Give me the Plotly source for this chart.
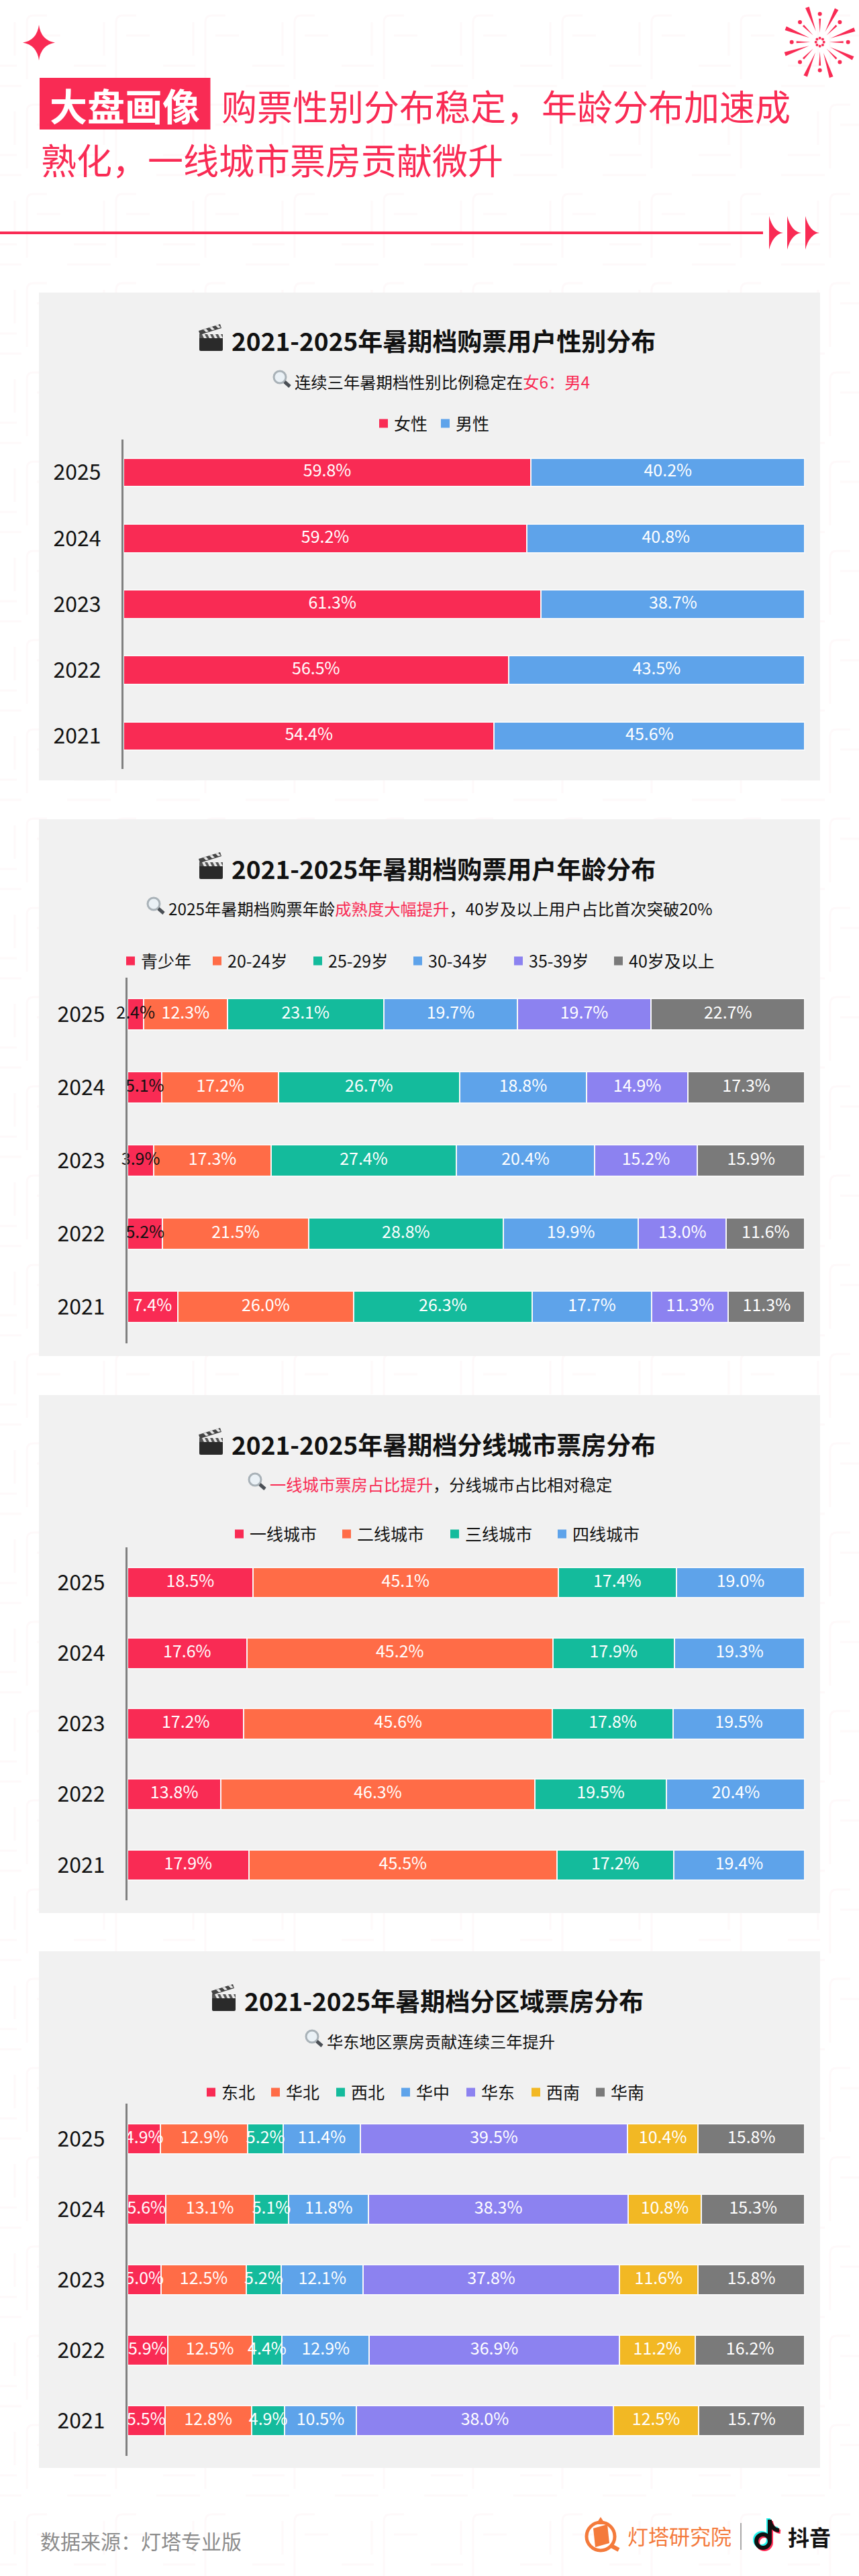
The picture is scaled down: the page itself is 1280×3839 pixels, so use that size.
import math
import plotly.graph_objects as go

W, H = 1280, 3839
FONT = "Noto Sans CJK SC"
RED = "#F92B54"

# 数据
years = ["2021", "2022", "2023", "2024", "2025"]

gender_names = ["女性", "男性"]
gender_female = [54.4, 56.5, 61.3, 59.2, 59.8]
gender_male = [45.6, 43.5, 38.7, 40.8, 40.2]

age_names = ["青少年", "20-24岁", "25-29岁", "30-34岁", "35-39岁", "40岁及以上"]
age_teen = [7.4, 5.2, 3.9, 5.1, 2.4]
age_20 = [26.0, 21.5, 17.3, 17.2, 12.3]
age_25 = [26.3, 28.8, 27.4, 26.7, 23.1]
age_30 = [17.7, 19.9, 20.4, 18.8, 19.7]
age_35 = [11.3, 13.0, 15.2, 14.9, 19.7]
age_40 = [11.3, 11.6, 15.9, 17.3, 22.7]

tier_names = ["一线城市", "二线城市", "三线城市", "四线城市"]
tier_1 = [17.9, 13.8, 17.2, 17.6, 18.5]
tier_2 = [45.5, 46.3, 45.6, 45.2, 45.1]
tier_3 = [17.2, 19.5, 17.8, 17.9, 17.4]
tier_4 = [19.4, 20.4, 19.5, 19.3, 19.0]

region_names = ["东北", "华北", "西北", "华中", "华东", "西南", "华南"]
region_ne = [5.5, 5.9, 5.0, 5.6, 4.9]
region_n = [12.8, 12.5, 12.5, 13.1, 12.9]
region_nw = [4.9, 4.4, 5.2, 5.1, 5.2]
region_c = [10.5, 12.9, 12.1, 11.8, 11.4]
region_e = [38.0, 36.9, 37.8, 38.3, 39.5]
region_sw = [12.5, 11.2, 11.6, 10.8, 10.4]
region_s = [15.7, 16.2, 15.8, 15.3, 15.8]

colors_two = [RED, "#5EA3EA"]
colors_all = [RED, "#FF6C47", "#14BB9C", "#5EA3EA", "#8C82F0", "#F2B824", "#7A7A7A"]
colors_age = [RED, "#FF6C47", "#14BB9C", "#5EA3EA", "#8C82F0", "#7A7A7A"]

# 每个面板的位置（像素）
panels = [
    dict(names=gender_names, series=[gender_female, gender_male], colors=colors_two,
         box=(436, 1163), plot=(655, 1146), left=184,
         title="2021-2025年暑期档购票用户性别分布", title_y=507, clap_x=297,
         sub=f"连续三年暑期档性别比例稳定在<span style='color:{RED}'>女6：男4</span>", sub_x=437, sub_y=568,
         legend_xs=[565, 657], legend_y=631),
    dict(names=age_names, series=[age_teen, age_20, age_25, age_30, age_35, age_40], colors=colors_age,
         box=(1221, 2021), plot=(1457, 2002), left=190,
         title="2021-2025年暑期档购票用户年龄分布", title_y=1294, clap_x=297,
         sub=f"2025年暑期档购票年龄<span style='color:{RED}'>成熟度大幅提升</span>，40岁及以上用户占比首次突破20%",
         sub_x=249, sub_y=1353, legend_xs=[188, 317, 467, 616, 766, 915], legend_y=1432),
    dict(names=tier_names, series=[tier_1, tier_2, tier_3, tier_4], colors=colors_all,
         box=(2079, 2851), plot=(2306, 2832), left=190,
         title="2021-2025年暑期档分线城市票房分布", title_y=2152, clap_x=297,
         sub=f"<span style='color:{RED}'>一线城市票房占比提升</span>，分线城市占比相对稳定", sub_x=400, sub_y=2211,
         legend_xs=[350, 510, 671, 831], legend_y=2286),
    dict(names=region_names, series=[region_ne, region_n, region_nw, region_c, region_e, region_sw, region_s],
         colors=colors_all,
         box=(2908, 3678), plot=(3135, 3660), left=190,
         title="2021-2025年暑期档分区域票房分布", title_y=2981, clap_x=316,
         sub="华东地区票房贡献连续三年提升", sub_x=485, sub_y=3041,
         legend_xs=[308, 404, 501, 598, 695, 792, 888], legend_y=3118),
]

fig = go.Figure()
# 第一组坐标轴就是页面像素，用来放背景、图标和标题
fig.add_trace(go.Scatter(x=[None], y=[None], showlegend=False, hoverinfo="skip"))
layout = dict(
    width=W, height=H, margin=dict(l=0, r=0, t=0, b=0), autosize=False,
    paper_bgcolor="#FFFFFF", plot_bgcolor="rgba(0,0,0,0)",
    barmode="stack", barnorm="percent", bargap=0.565,
    font=dict(family=FONT, color="#111111"), showlegend=False,
    xaxis=dict(domain=[0, 1], range=[0, W], visible=False, fixedrange=True),
    yaxis=dict(domain=[0, 1], range=[H, 0], visible=False, fixedrange=True),
)
shapes = []
annotations = []


def path_shape(path, fill=None, line=None, width=0, layer="below"):
    shapes.append(dict(type="path", path=path, xref="x", yref="y", layer=layer,
                       fillcolor=fill if fill else "rgba(0,0,0,0)",
                       line=dict(color=line if line else "rgba(0,0,0,0)", width=width)))


def dot(x, y, r, fill, line=None, width=0):
    shapes.append(dict(type="circle", xref="x", yref="y", layer="below", x0=x - r, x1=x + r, y0=y - r, y1=y + r,
                       fillcolor=fill, line=dict(color=line if line else "rgba(0,0,0,0)", width=width)))


def rect(x0, y0, x1, y1, fill):
    shapes.append(dict(type="rect", xref="x", yref="y", layer="below", x0=x0, x1=x1, y0=y0, y1=y1,
                       fillcolor=fill, line=dict(width=0)))


def text_at(x, y, text, size, color="#111111", anchor="left", bold=False):
    annotations.append(dict(x=x, y=y, xref="x", yref="y", text=f"<b>{text}</b>" if bold else text,
                            showarrow=False, xanchor=anchor, yanchor="middle",
                            font=dict(family=FONT, size=size, color=color)))


def clapper(x, y):
    # 🎬 没有彩色字体，用形状画
    path_shape(f"M{x},{y+15} L{x+35},{y+15} L{x+35},{y+38} Q{x+35},{y+40} {x+33},{y+40} "
               f"L{x+2},{y+40} Q{x},{y+40} {x},{y+38} Z", fill="#2A2A2A")
    rect(x, y + 15, x + 35, y + 21, "#555555")
    for k in range(4):
        bx = x + 4 + k * 8
        path_shape(f"M{bx},{y+15} L{bx+4},{y+15} L{bx+7},{y+21} L{bx+3},{y+21} Z", fill="#E8E8E8")
    path_shape(f"M{x-1},{y+10} L{x+31},{y} L{x+33},{y+6} L{x+1},{y+16} Z", fill="#444444")
    for k in range(3):
        bx = x + 6 + k * 9
        path_shape(f"M{bx},{y+8-k*3} L{bx+4},{y+7-k*3} L{bx+8},{y+11-k*3} L{bx+4},{y+12-k*3} Z", fill="#E8E8E8")


def magnifier(x, y):
    # 🔍
    dot(x, y, 9, "#EAF1F6", "#A9B2B8", 3)
    path_shape(f"M{x+7},{y+7} L{x+15},{y+14}", line="#4A4F55", width=5)


# 背景的浅色纹理
tile = ""
for row in range(-1, 30):
    for col in range(-1, 11):
        ox, oy = col * 133 + 40, row * 133 + 23
        tile += (f"M{ox},{oy+95} L{ox},{oy+10} Q{ox},{oy} {ox+10},{oy} L{ox+30},{oy} "
                 f"M{ox+15},{oy+30} L{ox+50},{oy+30} M{ox+70},{oy+75} L{ox+118},{oy+75} "
                 f"M{ox+60},{oy+105} L{ox+125},{oy+105} M{ox+115},{oy+10} L{ox+115},{oy+60} ")
path_shape(tile, line="#FEF9FA", width=3)

# 顶部装饰
path_shape("M58,37 Q61,60 82,63.5 Q61,67 58,90 Q55,67 34,63.5 Q55,60 58,37 Z", fill=RED)
cx, cy = 1221.7, 62.7
for a in [110, 63, 20, -26, -72, -113, -161, 158]:
    t = math.radians(a)
    ux, uy, vx, vy = math.cos(t), -math.sin(t), math.sin(t), math.cos(t)
    path_shape(f"M{cx+ux*17},{cy+uy*17} L{cx+ux*55+vx*3},{cy+uy*55+vy*3} "
               f"L{cx+ux*55-vx*3},{cy+uy*55-vy*3} Z", fill=RED)
for a in range(0, 360, 45):
    t = math.radians(a)
    ux, uy, vx, vy = math.cos(t), -math.sin(t), math.sin(t), math.cos(t)
    path_shape(f"M{cx+ux*14},{cy+uy*14} L{cx+ux*35+vx*1.5},{cy+uy*35+vy*1.5} "
               f"L{cx+ux*35-vx*1.5},{cy+uy*35-vy*1.5} Z", fill=RED)
    dot(cx + ux * 42, cy + uy * 42, 3, RED)
    dot(cx + ux * 6, cy + uy * 6, 2, RED)

rect(59, 116, 313.5, 193, RED)
text_at(186, 155, "大盘画像", 56, "#FFFFFF", "center", bold=True)
text_at(328, 157, "购票性别分布稳定，年龄分布加速成", 53, RED)
text_at(59, 237, "熟化，一线城市票房贡献微升", 53, RED)
rect(0, 345, 1137, 349, RED)
for ax_ in [1146, 1173, 1200]:
    path_shape(f"M{ax_},322 Q{ax_+6},345 {ax_+21},347 Q{ax_+6},349 {ax_},372 Z", fill=RED)

# 四个堆叠条形图
for i, p in enumerate(panels):
    n = i + 2
    xname, yname = f"x{n}", f"y{n}"
    rect(58, p["box"][0], 1222, p["box"][1], "#F1F1F1")
    totals = [sum(col) for col in zip(*p["series"])]
    running = [0.0] * len(years)
    lab_x, lab_y, lab_text, lab_color = [], [], [], []
    for j, (name, values) in enumerate(zip(p["names"], p["series"])):
        fig.add_trace(go.Bar(
            name=name, y=years, x=values, orientation="h", xaxis=xname, yaxis=yname,
            marker=dict(color=p["colors"][j], line=dict(color="#F8F8F8", width=2)),
        ))
        # 标签要盖在所有条形上面，窄的段才不会被下一段挡住
        for k, v in enumerate(values):
            lab_x.append((running[k] + v / 2) / totals[k] * 100)
            lab_y.append(years[k])
            lab_text.append(f"{v:.1f}%")
            dark = p["names"] is age_names and j == 0 and years[k] != "2021"
            lab_color.append("#111111" if dark else "#FFFFFF")
            running[k] += v
        # 图例
        lx = p["legend_xs"][j]
        rect(lx, p["legend_y"] - 6.5, lx + 13, p["legend_y"] + 6.5, p["colors"][j])
        text_at(lx + 20, p["legend_y"] - 1, name, 25)
    fig.add_trace(go.Scatter(
        x=lab_x, y=lab_y, text=lab_text, mode="text", textposition="middle center", xaxis=xname, yaxis=yname,
        textfont=dict(family=FONT, size=25, color=lab_color), cliponaxis=False, hoverinfo="skip",
    ))
    layout[f"xaxis{n}"] = dict(domain=[p["left"] / W, 1199.5 / W], range=[0, 100.01], visible=False,
                               anchor=yname, fixedrange=True)
    layout[f"yaxis{n}"] = dict(domain=[1 - p["plot"][1] / H, 1 - p["plot"][0] / H], anchor=xname, type="category",
                               categoryorder="array", categoryarray=years, showline=True, linecolor="#808080",
                               linewidth=3, ticks="", ticklabelstandoff=24, showgrid=False, zeroline=False,
                               tickfont=dict(family=FONT, size=32, color="#111111"), fixedrange=True)
    text_at(p["clap_x"] + 46, p["title_y"], p["title"], 37, bold=True)
    clapper(p["clap_x"], p["title_y"] - 24)
    text_at(p["sub_x"], p["sub_y"], p["sub"], 24.3)
    magnifier(p["sub_x"] - 20, p["sub_y"] - 6)

# 底部来源和标志
text_at(58, 3786, "数据来源：灯塔专业版", 30, "#8C8C8C")
text_at(933, 3778, "灯塔研究院", 31, "#F47A3B")
text_at(1172, 3780, "抖音", 32, "#111111", bold=True)
dot(895, 3780, 21, "rgba(0,0,0,0)", "#F47A3B", 5)
path_shape("M884,3768 L905,3762 L908,3790 L887,3796 Z", fill="#F47A3B")
path_shape("M888,3762 L895,3751 L902,3762 Z", fill="#F47A3B")
path_shape("M909,3793 L922,3800", line="#F47A3B", width=6)
path_shape("M1104,3760 L1104,3800", line="#AAAAAA", width=2)
for dx_, c_ in [(-2, "#25F4EE"), (2, "#FE2C55"), (0, "#111111")]:
    dot(1137 + dx_, 3787 + dx_, 10, "rgba(0,0,0,0)", c_, 6)
    path_shape(f"M{1147+dx_},{3755+dx_} L{1147+dx_},{3787+dx_} "
               f"M{1147+dx_},{3757+dx_} Q{1150+dx_},{3770+dx_} {1161+dx_},{3771+dx_}", line=c_, width=6)

layout["shapes"] = shapes
layout["annotations"] = annotations
fig.update_layout(**layout)
fig.write_html("out.html", config={"displayModeBar": False}, post_script="document.body.style.margin='0';")
